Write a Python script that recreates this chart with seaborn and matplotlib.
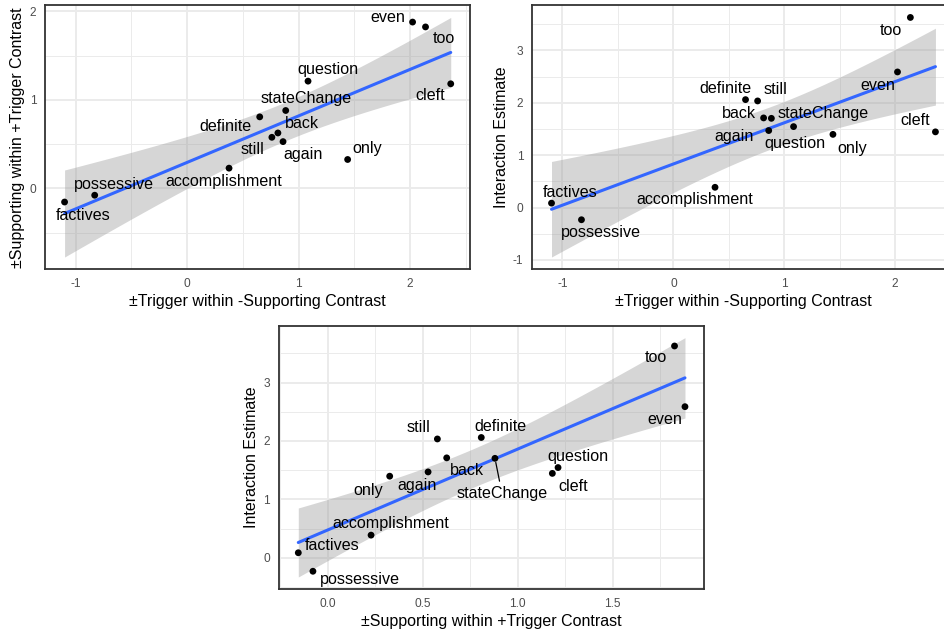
import numpy as np
import pandas as pd
import matplotlib
matplotlib.use("Agg")
import matplotlib.pyplot as plt
from matplotlib.ticker import MultipleLocator
import seaborn as sns

# values
triggers = ["factives", "possessive", "accomplishment", "definite", "still", "back",
            "again", "stateChange", "question", "only", "even", "too", "cleft"]
trigger_contrast = [-1.098, -0.828, 0.376, 0.651, 0.760, 0.814,
                    0.860, 0.884, 1.084, 1.439, 2.021, 2.137, 2.363]
supporting_contrast = [-0.155, -0.078, 0.228, 0.808, 0.577, 0.626,
                       0.528, 0.880, 1.212, 0.326, 1.880, 1.825, 1.182]
interaction = [0.085, -0.232, 0.387, 2.060, 2.035, 1.711,
               1.470, 1.703, 1.545, 1.397, 2.588, 3.628, 1.445]

df = pd.DataFrame({"trigger": triggers,
                   "trig": trigger_contrast,
                   "supp": supporting_contrast,
                   "inter": interaction})

# label offsets (pixels, right / up) mimicking the ggrepel placement
offsets_a = {"factives": (19, -13), "possessive": (19, 11), "accomplishment": (-5, -13),
             "definite": (-34, -10), "still": (-19, -12), "back": (24, 9),
             "again": (20, -13), "stateChange": (20, 12), "question": (20, 12),
             "only": (20, 11), "even": (-25, 5), "too": (18, -12), "cleft": (-21, -12)}
offsets_b = {"factives": (19, 11), "possessive": (19, -13), "accomplishment": (-20, -12),
             "definite": (-20, 11), "still": (18, 11), "back": (-25, 4),
             "stateChange": (52, 5), "again": (-35, -6), "question": (1, -17),
             "only": (19, -14), "even": (-20, -14), "too": (-19, -13), "cleft": (-20, 11)}
offsets_c = {"factives": (34, 7), "possessive": (47, -8), "accomplishment": (20, 12),
             "only": (-21, -14), "again": (-11, -14), "still": (-19, 11),
             "back": (20, -13), "definite": (19, 11), "stateChange": (7, -35),
             "question": (20, 11), "cleft": (21, -13), "too": (-19, -12), "even": (-20, -13)}

sns.set_style("white")
plt.rcParams["font.family"] = ["Liberation Sans", "DejaVu Sans"]
plt.rcParams["axes.unicode_minus"] = False

T_975 = 2.201  # t quantile, df = 11


def panel(ax, xcol, ycol, xlabel, ylabel, offsets, xstep, ystep, segments=()):
    x = df[xcol].values
    y = df[ycol].values
    n = len(x)
    b, a = np.polyfit(x, y, 1)
    resid = y - (a + b * x)
    s = np.sqrt(np.sum(resid ** 2) / (n - 2))
    sxx = np.sum((x - x.mean()) ** 2)
    xs = np.linspace(x.min(), x.max(), 80)
    fit = a + b * xs
    se = s * np.sqrt(1 / n + (xs - x.mean()) ** 2 / sxx)
    lo, hi = fit - T_975 * se, fit + T_975 * se

    # confidence band + regression line + points
    ax.fill_between(xs, lo, hi, color="#999999", alpha=0.4, lw=0, zorder=1)
    sns.regplot(data=df, x=xcol, y=ycol, ax=ax, scatter=False, ci=None,
                color="#3366FF", line_kws=dict(lw=2.2, zorder=2))
    sns.scatterplot(data=df, x=xcol, y=ycol, ax=ax, color="black", s=24,
                    edgecolor="none", zorder=3)

    for name, xv, yv in zip(df["trigger"], x, y):
        dx, dy = offsets[name]
        kw = {}
        if name in segments:
            kw["arrowprops"] = dict(arrowstyle="-", color="black", lw=0.9,
                                    shrinkA=1, shrinkB=3)
        ax.annotate(name, (xv, yv), xytext=(dx, dy), textcoords="offset pixels",
                    ha="center", va="center", fontsize=11.6, color="black",
                    zorder=4, **kw)

    # ggplot-like limits (5% expansion)
    xr = x.max() - x.min()
    ax.set_xlim(x.min() - 0.05 * xr, x.max() + 0.05 * xr)
    ymin = min(y.min(), lo.min())
    ymax = max(y.max(), hi.max())
    yr = ymax - ymin
    ax.set_ylim(ymin - 0.05 * yr, ymax + 0.05 * yr)

    ax.xaxis.set_major_locator(MultipleLocator(xstep))
    ax.xaxis.set_minor_locator(MultipleLocator(xstep / 2))
    ax.yaxis.set_major_locator(MultipleLocator(ystep))
    ax.yaxis.set_minor_locator(MultipleLocator(ystep / 2))
    ax.grid(which="major", color="#EBEBEB", lw=1.4)
    ax.grid(which="minor", color="#EBEBEB", lw=0.7)
    ax.set_axisbelow(True)
    ax.tick_params(which="major", length=4, width=1, color="#333333",
                   labelsize=8.6, labelcolor="#4D4D4D", pad=2.5)
    ax.tick_params(which="minor", length=0)
    for sp in ax.spines.values():
        sp.set_color("#333333")
        sp.set_linewidth(1.3)
    ax.set_xlabel(xlabel, fontsize=11.5, labelpad=3, color="black")
    ax.set_ylabel(ylabel, fontsize=11.5, labelpad=3, color="black")


fig = plt.figure(figsize=(9.45, 6.29), dpi=100)
ax1 = fig.add_axes([0.0479, 0.5723, 0.4495, 0.4190])
ax2 = fig.add_axes([0.5633, 0.5723, 0.4469, 0.4190])
ax3 = fig.add_axes([0.2952, 0.0636, 0.4501, 0.4186])

panel(ax1, "trig", "supp", "±Trigger within -Supporting Contrast",
      "±Supporting within +Trigger Contrast", offsets_a, 1, 1)
panel(ax2, "trig", "inter", "±Trigger within -Supporting Contrast",
      "Interaction Estimate", offsets_b, 1, 1)
panel(ax3, "supp", "inter", "±Supporting within +Trigger Contrast",
      "Interaction Estimate", offsets_c, 0.5, 1, segments=("stateChange",))

plt.savefig("out.png", dpi=100)
